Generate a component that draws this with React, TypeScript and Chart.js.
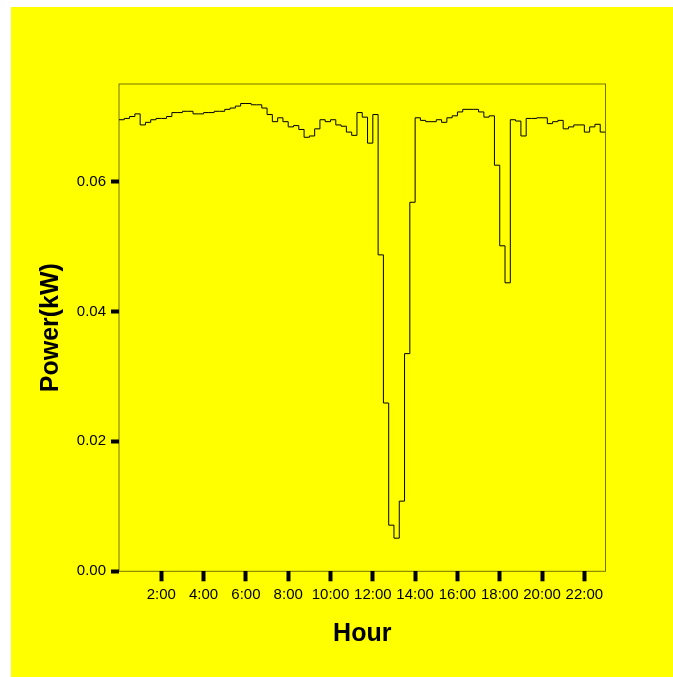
import React, { useEffect, useRef } from 'react';
import { Chart, registerables } from 'chart.js';

Chart.register(...registerables);

// 15-minute slots starting at 0:00 (value holds for the whole slot)
const slotHours = 0.25;
const powerKW = [
  0.0695, 0.0697, 0.0700, 0.0704, 0.0687, 0.0691, 0.0695, 0.0697, 0.0697, 0.0700,
  0.0706, 0.0706, 0.0708, 0.0708, 0.0704, 0.0704, 0.0706, 0.0706, 0.0708, 0.0708,
  0.0711, 0.0713, 0.0716, 0.0720, 0.0720, 0.0718, 0.0718, 0.0713, 0.0703, 0.0692,
  0.0698, 0.0692, 0.0684, 0.0686, 0.0680, 0.0668, 0.0670, 0.0681, 0.0695, 0.0692,
  0.0695, 0.0687, 0.0685, 0.0676, 0.0671, 0.0706, 0.0699, 0.0659, 0.0703, 0.0487,
  0.0259, 0.0071, 0.0051, 0.0108, 0.0335, 0.0568, 0.0698, 0.0694, 0.0692, 0.0692,
  0.0695, 0.0691, 0.0698, 0.0701, 0.0707, 0.0711, 0.0711, 0.0711, 0.0707, 0.0699,
  0.0701, 0.0625, 0.0501, 0.0444, 0.0695, 0.0693, 0.0670, 0.0697, 0.0697, 0.0698,
  0.0698, 0.0689, 0.0692, 0.0694, 0.0681, 0.0684, 0.0687, 0.0687, 0.0676, 0.0684,
  0.0688, 0.0676,
];
const xTickHours = [2, 4, 6, 8, 10, 12, 14, 16, 18, 20, 22];
const yTicks = [0, 0.02, 0.04, 0.06];
const xMaxHours = 23;
const yMaxKW = 0.075;

const FAMILY = "'Liberation Sans', Arial, Helvetica, sans-serif";

export default function App() {
  const ref = useRef<HTMLCanvasElement>(null);

  useEffect(() => {
    if (!ref.current) return;
    const points = powerKW.map((v, i) => ({ x: i * slotHours, y: v }));
    points.push({ x: powerKW.length * slotHours, y: powerKW[powerKW.length - 1] });

    const frame = {
      id: 'frame',
      afterDatasetsDraw(chart: any) {
        const { ctx, chartArea: a } = chart;
        ctx.save();
        ctx.strokeStyle = 'rgba(0,0,0,0.55)';
        ctx.lineWidth = 1;
        ctx.strokeRect(a.left, a.top, a.right - a.left, a.bottom - a.top);
        ctx.restore();
      },
    };

    const chart = new Chart(ref.current, {
      type: 'line',
      data: {
        datasets: [
          {
            data: points,
            borderColor: '#000',
            borderWidth: 1,
            pointRadius: 0,
            stepped: true,
            fill: false,
            tension: 0,
          },
        ],
      },
      options: {
        animation: false,
        responsive: false,
        layout: { padding: { left: 11, top: 84, right: 67.5, bottom: 0 } },
        plugins: { legend: { display: false }, tooltip: { enabled: false } },
        scales: {
          x: {
            type: 'linear',
            min: 0,
            max: xMaxHours,
            afterBuildTicks: (s: any) => {
              s.ticks = xTickHours.map((v) => ({ value: v }));
            },
            afterFit: (s: any) => {
              s.height = 105.7;
            },
            grid: {
              drawOnChartArea: false,
              drawTicks: true,
              tickLength: 10,
              tickWidth: 4,
              tickColor: '#000',
            },
            border: { display: false },
            ticks: {
              callback: (v: any) => `${v}:00`,
              font: { family: FAMILY, size: 15 },
              color: '#000',
              padding: 5,
              maxRotation: 0,
              autoSkip: false,
            },
            title: {
              display: true,
              text: 'Hour',
              font: { family: FAMILY, size: 25, weight: 'bold' },
              color: '#000',
              padding: { top: 0, bottom: 28 },
            },
          },
          y: {
            type: 'linear',
            min: 0,
            max: yMaxKW,
            afterBuildTicks: (s: any) => {
              s.ticks = yTicks.map((v) => ({ value: v }));
            },
            afterFit: (s: any) => {
              s.width = 108;
            },
            grid: {
              drawOnChartArea: false,
              drawTicks: true,
              tickLength: 8,
              tickWidth: 4,
              tickColor: '#000',
            },
            border: { display: false },
            ticks: {
              callback: (v: any) => Number(v).toFixed(2),
              font: { family: FAMILY, size: 15 },
              color: '#000',
              padding: 5,
            },
            title: {
              display: true,
              text: 'Power(kW)',
              font: { family: FAMILY, size: 25, weight: 'bold' },
              color: '#000',
              padding: { top: 25, bottom: 0 },
            },
          },
        },
      },
      plugins: [frame],
    } as any);

    return () => chart.destroy();
  }, []);

  return (
    <div style={{ position: 'absolute', left: 0, top: 0, width: 673, height: 677, background: '#ffffff', overflow: 'hidden' }}>
      <div style={{ position: 'absolute', left: 11, top: 7, right: 0, bottom: 0, background: '#ffff00' }} />
      <canvas
        ref={ref}
        width={673}
        height={677}
        style={{ position: 'absolute', left: 0, top: 0, width: 673, height: 677 }}
      />
    </div>
  );
}
